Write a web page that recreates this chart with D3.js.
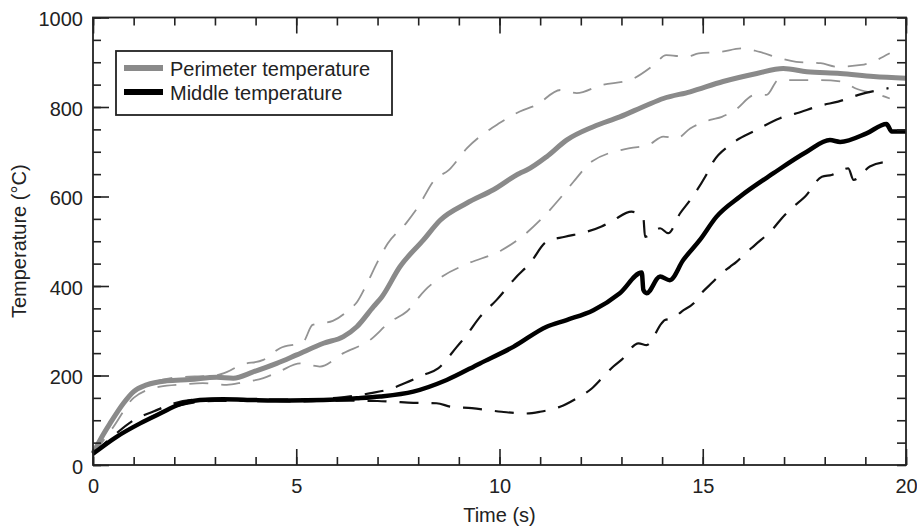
<!DOCTYPE html>
<html>
<head>
<meta charset="utf-8">
<script src="https://cdn.jsdelivr.net/npm/d3@7"></script>
<style>
  body { margin: 0; background: #fff; }
  svg text { font-family: "Liberation Sans", Arial, sans-serif; fill: #222; }
</style>
</head>
<body>
<div class="chart"></div>
<script>
// perimeter temperature (solid grey)
var perimTime = [0, 0.2, 0.42, 0.75, 1.0, 1.32, 1.81, 2.39, 3.04, 3.45, 3.94, 4.52, 5.01, 5.67, 6.16, 6.49, 6.9, 7.1, 7.55, 8.13, 8.54, 9.19, 9.85, 10.5, 10.67, 11.16, 11.65, 12.31, 12.96, 13.62, 14.03, 14.69, 15.5, 16.33, 16.98, 17.56, 18.38, 19.2, 20];
var perimTemp = [26, 60, 93, 138, 164, 179, 188, 191, 196, 194, 208, 227, 246, 272, 287, 309, 354, 375, 443, 503, 547, 585, 615, 652, 659, 689, 726, 756, 778, 804, 819, 834, 857, 875, 886, 879, 875, 868, 864];

// middle temperature (solid black)
var middleTime = [0, 0.58, 1.16, 1.65, 2.14, 2.63, 3.2, 4.03, 4.85, 5.67, 6.49, 7.06, 7.88, 8.7, 9.52, 10.34, 11.16, 11.65, 12.31, 12.96, 13.5, 13.54, 13.62, 13.95, 14.19, 14.52, 14.93, 15.34, 15.92, 16.74, 17.56, 18.13, 18.38, 19.03, 19.52, 19.65, 20];
var middleTemp = [25, 63, 93, 115, 136, 145, 147, 145, 144, 145, 149, 153, 164, 190, 227, 264, 309, 324, 346, 384, 430, 391, 384, 421, 413, 458, 503, 555, 600, 652, 700, 726, 722, 741, 762, 745, 745];

// perimeter upper bound (dashed grey)
var perimHiTime = [0, 0.5, 1.0, 1.5, 2.0, 2.5, 3.0, 3.3, 3.62, 4.19, 4.6, 5.17, 5.4, 5.9, 6.3, 6.5, 6.7, 7.0, 7.25, 7.7, 8.0, 8.4, 8.75, 9.2, 10.0, 10.5, 10.9, 11.5, 11.9, 12.5, 13.2, 13.8, 14.1, 14.6, 14.9, 15.4, 16.0, 16.4, 16.9, 17.3, 17.9, 18.3, 18.9, 19.6];
var perimHiTemp = [28, 105, 165, 185, 195, 198, 200, 208, 223, 235, 261, 275, 313, 322, 347, 365, 398, 454, 495, 540, 577, 637, 659, 708, 764, 790, 804, 838, 831, 849, 860, 894, 916, 912, 920, 923, 931, 923, 909, 901, 898, 890, 894, 920];

// perimeter lower bound (dashed grey)
var perimLoTime = [0, 0.5, 1.0, 1.65, 2.2, 2.7, 3.29, 3.7, 4.19, 4.56, 5.1, 5.58, 6.16, 6.81, 7.31, 7.72, 8.17, 8.62, 9.19, 10.05, 10.63, 11.0, 11.49, 11.82, 12.27, 13.21, 13.66, 14.03, 14.36, 14.69, 15.18, 15.47, 15.79, 16.29, 16.57, 16.86, 17.43, 17.84, 18.42, 18.75, 19.36, 19.6];
var perimLoTemp = [24, 85, 150, 175, 180, 183, 179, 185, 194, 208, 227, 220, 250, 279, 320, 343, 391, 423, 449, 480, 516, 547, 596, 633, 678, 708, 715, 734, 730, 752, 771, 778, 793, 827, 827, 860, 860, 860, 857, 842, 827, 819];

// middle upper bound (dashed black)
var middleHiTime = [0, 0.5, 1.0, 1.5, 2.0, 2.5, 3.0, 4.0, 5.0, 6.0, 6.8, 7.35, 7.68, 8.13, 8.49, 8.95, 9.19, 9.52, 9.93, 10.38, 10.75, 11.16, 11.61, 12.14, 12.51, 12.8, 13.25, 13.54, 13.58, 13.95, 14.15, 14.44, 14.69, 15.06, 15.26, 15.67, 16.33, 16.9, 17.31, 17.93, 18.33, 18.83, 19.57];
var middleHiTemp = [25, 65, 100, 120, 138, 146, 148, 146, 146, 150, 160, 171, 183, 201, 216, 264, 290, 331, 369, 417, 451, 499, 510, 521, 533, 547, 566, 551, 510, 529, 518, 562, 592, 644, 678, 715, 749, 775, 786, 804, 812, 827, 842];

// middle lower bound (dashed black)
var middleLoTime = [0, 0.5, 1.0, 1.5, 2.0, 2.5, 3.0, 4.0, 5.0, 6.0, 7.0, 7.43, 7.88, 8.45, 8.82, 9.32, 10.05, 10.63, 11.0, 11.49, 11.9, 12.27, 12.55, 12.8, 13.0, 13.42, 13.62, 13.99, 14.07, 14.28, 14.48, 14.77, 14.97, 15.26, 15.42, 15.67, 15.83, 16.0, 16.29, 16.74, 16.94, 17.19, 17.52, 17.93, 18.17, 18.58, 18.71, 19.11, 19.57];
var middleLoTemp = [25, 58, 85, 110, 130, 140, 143, 144, 142, 144, 143, 141, 139, 138, 130, 127, 119, 115, 119, 130, 149, 171, 197, 220, 235, 272, 268, 317, 324, 328, 343, 361, 384, 410, 425, 443, 454, 469, 492, 529, 551, 574, 600, 644, 648, 663, 637, 667, 678];

var legendLabels = ['Perimeter temperature', 'Middle temperature'];
var xMajorTicks = [0, 5, 10, 15, 20];
var yMajorTicks = [0, 200, 400, 600, 800, 1000];

var svgWidth = 917;
var svgHeight = 531;
var plotLeft = 93;
var plotRight = 906;
var plotTop = 17.5;
var plotBottom = 465;
var fontSize = '20px';

function zip(ts, vs) {
  return ts.map(function(t, i) { return { t: t, v: vs[i] }; });
}

var svg = d3.select('.chart').append('svg')
  .attr('width', svgWidth)
  .attr('height', svgHeight);

var xScale = d3.scaleLinear().domain([0, 20]).range([plotLeft, plotRight]);
var yScale = d3.scaleLinear().domain([0, 1000]).range([plotBottom, plotTop]);

var line = d3.line()
  .curve(d3.curveMonotoneX)
  .x(function(d) { return xScale(d.t); })
  .y(function(d) { return yScale(d.v); });

// dashed bounds first, solid lines on top
var dashed = [
  { data: zip(perimHiTime, perimHiTemp), color: '#939393', width: 1.8 },
  { data: zip(perimLoTime, perimLoTemp), color: '#939393', width: 1.8 },
  { data: zip(middleHiTime, middleHiTemp), color: '#111', width: 2.2 },
  { data: zip(middleLoTime, middleLoTemp), color: '#111', width: 2.2 }
];
dashed.forEach(function(s) {
  svg.append('path')
    .datum(s.data)
    .attr('d', line)
    .attr('fill', 'none')
    .attr('stroke', s.color)
    .attr('stroke-width', s.width)
    .attr('stroke-dasharray', '19,13');
});

svg.append('path')
  .datum(zip(perimTime, perimTemp))
  .attr('d', line)
  .attr('fill', 'none')
  .attr('stroke', '#8a8a8a')
  .attr('stroke-width', 5)
  .attr('stroke-linejoin', 'round');

svg.append('path')
  .datum(zip(middleTime, middleTemp))
  .attr('d', line)
  .attr('fill', 'none')
  .attr('stroke', '#000')
  .attr('stroke-width', 4.5)
  .attr('stroke-linejoin', 'round');

// axes, ticks point inward on all four sides
function styleAxis(g) {
  g.select('.domain').remove();
  g.selectAll('line').attr('stroke', '#222').attr('stroke-width', 1.6);
  g.selectAll('text').style('font-size', fontSize).attr('fill', '#222');
}

svg.append('g')
  .attr('transform', 'translate(0,' + plotBottom + ')')
  .call(d3.axisBottom(xScale).tickValues(d3.range(0, 21, 1)).tickSize(-8).tickFormat(''))
  .call(styleAxis);
svg.append('g')
  .attr('transform', 'translate(0,' + plotBottom + ')')
  .call(d3.axisBottom(xScale).tickValues(xMajorTicks).tickSize(-16).tickPadding(14).tickFormat(d3.format('d')))
  .call(styleAxis);

svg.append('g')
  .attr('transform', 'translate(0,' + plotTop + ')')
  .call(d3.axisTop(xScale).tickValues(d3.range(0, 21, 1)).tickSize(-8).tickFormat(''))
  .call(styleAxis);
svg.append('g')
  .attr('transform', 'translate(0,' + plotTop + ')')
  .call(d3.axisTop(xScale).tickValues(xMajorTicks).tickSize(-16).tickFormat(''))
  .call(styleAxis);

svg.append('g')
  .attr('transform', 'translate(' + plotLeft + ',0)')
  .call(d3.axisLeft(yScale).tickValues(d3.range(0, 1001, 50)).tickSize(-8).tickFormat(''))
  .call(styleAxis);
var yAxisG = svg.append('g')
  .attr('transform', 'translate(' + plotLeft + ',0)')
  .call(d3.axisLeft(yScale).tickValues(yMajorTicks).tickSize(-16).tickPadding(10).tickFormat(d3.format('d')))
  .call(styleAxis);
yAxisG.selectAll('text').attr('dy', '0.42em');

svg.append('g')
  .attr('transform', 'translate(' + plotRight + ',0)')
  .call(d3.axisRight(yScale).tickValues(d3.range(0, 1001, 50)).tickSize(-9).tickFormat(''))
  .call(styleAxis);

// frame
svg.append('rect')
  .attr('x', plotLeft)
  .attr('y', plotTop)
  .attr('width', plotRight - plotLeft)
  .attr('height', plotBottom - plotTop)
  .attr('fill', 'none')
  .attr('stroke', '#222')
  .attr('stroke-width', 1.8);

// axis titles
svg.append('text')
  .attr('x', (plotLeft + plotRight) / 2)
  .attr('y', 522)
  .style('text-anchor', 'middle')
  .style('font-size', fontSize)
  .text('Time (s)');

svg.append('text')
  .attr('transform', 'translate(26,' + ((plotTop + plotBottom) / 2) + ') rotate(-90)')
  .style('text-anchor', 'middle')
  .style('font-size', fontSize)
  .text('Temperature (\u00B0C)');

// legend
var legend = svg.append('g').attr('class', 'legend');
legend.append('rect')
  .attr('x', 116)
  .attr('y', 51)
  .attr('width', 276)
  .attr('height', 64)
  .attr('fill', '#fff')
  .attr('stroke', '#222')
  .attr('stroke-width', 1.8);

var legendColors = ['#8a8a8a', '#000'];
legendLabels.forEach(function(label, i) {
  var yPos = 68 + i * 24;
  legend.append('line')
    .attr('x1', 124).attr('x2', 163)
    .attr('y1', yPos).attr('y2', yPos)
    .attr('stroke', legendColors[i])
    .attr('stroke-width', 6);
  legend.append('text')
    .attr('x', 170)
    .attr('y', yPos + 7.5)
    .style('font-size', fontSize)
    .text(label);
});
</script>
</body>
</html>
